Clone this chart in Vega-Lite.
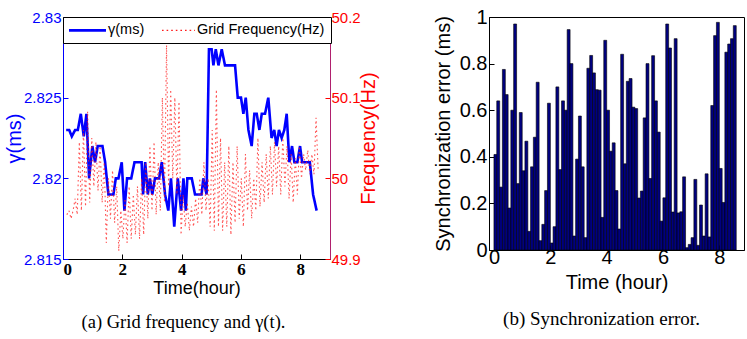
{
  "$schema": "https://vega.github.io/schema/vega-lite/v6.json",
  "background": "white",
  "padding": {"left": 3, "top": 6, "right": 0, "bottom": 0},
  "bounds": "flush",
  "spacing": 159,
  "config": {
    "view": {"stroke": "black", "strokeWidth": 1},
    "font": "Liberation Sans",
    "axis": {"grid": false, "domainColor": "black", "tickColor": "black", "labelColor": "black", "titleColor": "black", "labelFont": "Liberation Sans", "titleFont": "Liberation Sans", "titleFontWeight": "normal", "domainWidth": 1, "tickWidth": 1}
  },
  "hconcat": [
    {
      "width": 267,
      "height": 242,
      "title": {"text": "(a) Grid frequency and γ(t).", "orient": "bottom", "frame": "group", "font": "Liberation Serif", "fontSize": 18.5, "fontWeight": "normal", "color": "black", "offset": 16, "dx": -13},
      "layer": [
        {
          "data": {"values": [
            {"t":0.107,"gamma":2.823,"series":"γ(ms)"},{"t":0.208,"gamma":2.823,"series":"γ(ms)"},{"t":0.297,"gamma":2.8226,"series":"γ(ms)"},{"t":0.41,"gamma":2.823,"series":"γ(ms)"},{"t":0.5,"gamma":2.823,"series":"γ(ms)"},{"t":0.6,"gamma":2.824,"series":"γ(ms)"},{"t":0.7,"gamma":2.8226,"series":"γ(ms)"},{"t":0.79,"gamma":2.824,"series":"γ(ms)"},{"t":0.88,"gamma":2.82,"series":"γ(ms)"},{"t":0.99,"gamma":2.822,"series":"γ(ms)"},{"t":1.08,"gamma":2.821,"series":"γ(ms)"},{"t":1.17,"gamma":2.822,"series":"γ(ms)"},{"t":1.25,"gamma":2.822,"series":"γ(ms)"},{"t":1.33,"gamma":2.822,"series":"γ(ms)"},{"t":1.42,"gamma":2.821,"series":"γ(ms)"},{"t":1.53,"gamma":2.819,"series":"γ(ms)"},{"t":1.7,"gamma":2.819,"series":"γ(ms)"},{"t":1.78,"gamma":2.82,"series":"γ(ms)"},{"t":1.87,"gamma":2.82,"series":"γ(ms)"},{"t":1.98,"gamma":2.821,"series":"γ(ms)"},{"t":2.07,"gamma":2.818,"series":"γ(ms)"},{"t":2.16,"gamma":2.82,"series":"γ(ms)"},{"t":2.3,"gamma":2.82,"series":"γ(ms)"},{"t":2.41,"gamma":2.821,"series":"γ(ms)"},{"t":2.65,"gamma":2.821,"series":"γ(ms)"},{"t":2.7,"gamma":2.819,"series":"γ(ms)"},{"t":2.77,"gamma":2.821,"series":"γ(ms)"},{"t":2.86,"gamma":2.819,"series":"γ(ms)"},{"t":2.93,"gamma":2.82,"series":"γ(ms)"},{"t":3.01,"gamma":2.819,"series":"γ(ms)"},{"t":3.1,"gamma":2.82,"series":"γ(ms)"},{"t":3.24,"gamma":2.82,"series":"γ(ms)"},{"t":3.33,"gamma":2.821,"series":"γ(ms)"},{"t":3.44,"gamma":2.819,"series":"γ(ms)"},{"t":3.55,"gamma":2.818,"series":"γ(ms)"},{"t":3.64,"gamma":2.82,"series":"γ(ms)"},{"t":3.75,"gamma":2.817,"series":"γ(ms)"},{"t":3.87,"gamma":2.82,"series":"γ(ms)"},{"t":3.98,"gamma":2.818,"series":"γ(ms)"},{"t":4.06,"gamma":2.82,"series":"γ(ms)"},{"t":4.14,"gamma":2.818,"series":"γ(ms)"},{"t":4.19,"gamma":2.82,"series":"γ(ms)"},{"t":4.34,"gamma":2.82,"series":"γ(ms)"},{"t":4.45,"gamma":2.819,"series":"γ(ms)"},{"t":4.67,"gamma":2.819,"series":"γ(ms)"},{"t":4.73,"gamma":2.82,"series":"γ(ms)"},{"t":4.84,"gamma":2.819,"series":"γ(ms)"},{"t":4.92,"gamma":2.828,"series":"γ(ms)"},{"t":5.01,"gamma":2.828,"series":"γ(ms)"},{"t":5.07,"gamma":2.827,"series":"γ(ms)"},{"t":5.15,"gamma":2.828,"series":"γ(ms)"},{"t":5.24,"gamma":2.827,"series":"γ(ms)"},{"t":5.35,"gamma":2.828,"series":"γ(ms)"},{"t":5.46,"gamma":2.827,"series":"γ(ms)"},{"t":5.8,"gamma":2.827,"series":"γ(ms)"},{"t":5.89,"gamma":2.825,"series":"γ(ms)"},{"t":6.0,"gamma":2.825,"series":"γ(ms)"},{"t":6.08,"gamma":2.824,"series":"γ(ms)"},{"t":6.16,"gamma":2.825,"series":"γ(ms)"},{"t":6.25,"gamma":2.823,"series":"γ(ms)"},{"t":6.36,"gamma":2.822,"series":"γ(ms)"},{"t":6.45,"gamma":2.824,"series":"γ(ms)"},{"t":6.53,"gamma":2.824,"series":"γ(ms)"},{"t":6.62,"gamma":2.823,"series":"γ(ms)"},{"t":6.7,"gamma":2.824,"series":"γ(ms)"},{"t":6.81,"gamma":2.824,"series":"γ(ms)"},{"t":6.92,"gamma":2.825,"series":"γ(ms)"},{"t":7.03,"gamma":2.8225,"series":"γ(ms)"},{"t":7.12,"gamma":2.823,"series":"γ(ms)"},{"t":7.2,"gamma":2.822,"series":"γ(ms)"},{"t":7.28,"gamma":2.823,"series":"γ(ms)"},{"t":7.37,"gamma":2.8225,"series":"γ(ms)"},{"t":7.46,"gamma":2.823,"series":"γ(ms)"},{"t":7.54,"gamma":2.824,"series":"γ(ms)"},{"t":7.63,"gamma":2.821,"series":"γ(ms)"},{"t":7.72,"gamma":2.822,"series":"γ(ms)"},{"t":7.8,"gamma":2.821,"series":"γ(ms)"},{"t":7.9,"gamma":2.821,"series":"γ(ms)"},{"t":7.99,"gamma":2.822,"series":"γ(ms)"},{"t":8.06,"gamma":2.821,"series":"γ(ms)"},{"t":8.32,"gamma":2.821,"series":"γ(ms)"},{"t":8.43,"gamma":2.819,"series":"γ(ms)"},{"t":8.55,"gamma":2.818,"series":"γ(ms)"}
          ]},
          "mark": {"type": "line", "strokeWidth": 2.6},
          "encoding": {
            "x": {"field": "t", "type": "quantitative", "scale": {"domain": [0, 9], "nice": false},
              "axis": {"values": [0, 2, 4, 6, 8], "title": "Time(hour)", "labelFont": "Liberation Serif", "labelFontWeight": "bold", "labelFontSize": 17, "titleFontSize": 18, "tickSize": -5, "labelPadding": 7, "titlePadding": 2}},
            "y": {"field": "gamma", "type": "quantitative", "scale": {"domain": [2.815, 2.83], "nice": false, "zero": false},
              "axis": {"values": [2.815, 2.82, 2.825, 2.83], "format": "~g", "title": "γ(ms)", "labelColor": "#0000ff", "titleColor": "#0000ff", "domainColor": "#0000ff", "tickColor": "#0000ff", "labelFontSize": 15, "titleFontSize": 20, "tickSize": -5, "labelPadding": 7, "titlePadding": -1}},
            "color": {"field": "series", "type": "nominal", "scale": {"domain": ["γ(ms)", "Grid Frequency(Hz)"], "range": ["#0000ff", "#ff1a1a"]},
              "legend": {"orient": "none", "legendX": 0, "legendY": 0, "direction": "horizontal", "title": null, "fillColor": "white", "strokeColor": "black", "padding": 6, "symbolType": "stroke", "symbolSize": 1369, "labelFontSize": 14.5, "labelFont": "Liberation Sans", "labelColor": "black", "labelOffset": 4, "columnPadding": 14,
                "encode": {
                  "symbols": {"update": {"strokeWidth": {"signal": "datum.value === 'γ(ms)' ? 2.6 : 1.2"}, "size": {"signal": "datum.value === 'γ(ms)' ? 1369 : 1089"}, "x": {"signal": "datum.value === 'γ(ms)' ? 18.5 : 16.5"}}},
                  "labels": {"update": {"x": {"signal": "datum.value === 'γ(ms)' ? 39 : 35"}}}
                }}},
            "strokeDash": {"field": "series", "type": "nominal", "scale": {"domain": ["γ(ms)", "Grid Frequency(Hz)"], "range": [[1, 0], [1.6, 3]]}}
          }
        },
        {
          "data": {"values": [
            {"t":0.13,"freq":49.955,"series":"Grid Frequency(Hz)"},{"t":0.2,"freq":49.96,"series":"Grid Frequency(Hz)"},{"t":0.27,"freq":49.95,"series":"Grid Frequency(Hz)"},{"t":0.34,"freq":49.96,"series":"Grid Frequency(Hz)"},{"t":0.41,"freq":49.975,"series":"Grid Frequency(Hz)"},{"t":0.48,"freq":49.955,"series":"Grid Frequency(Hz)"},{"t":0.55,"freq":50.045,"series":"Grid Frequency(Hz)"},{"t":0.62,"freq":49.96,"series":"Grid Frequency(Hz)"},{"t":0.69,"freq":50.06,"series":"Grid Frequency(Hz)"},{"t":0.76,"freq":49.965,"series":"Grid Frequency(Hz)"},{"t":0.83,"freq":50.083,"series":"Grid Frequency(Hz)"},{"t":0.9,"freq":49.97,"series":"Grid Frequency(Hz)"},{"t":0.97,"freq":50.05,"series":"Grid Frequency(Hz)"},{"t":1.04,"freq":49.99,"series":"Grid Frequency(Hz)"},{"t":1.11,"freq":50.045,"series":"Grid Frequency(Hz)"},{"t":1.18,"freq":49.985,"series":"Grid Frequency(Hz)"},{"t":1.25,"freq":50.04,"series":"Grid Frequency(Hz)"},{"t":1.32,"freq":49.97,"series":"Grid Frequency(Hz)"},{"t":1.39,"freq":50.02,"series":"Grid Frequency(Hz)"},{"t":1.46,"freq":49.92,"series":"Grid Frequency(Hz)"},{"t":1.53,"freq":50.0,"series":"Grid Frequency(Hz)"},{"t":1.6,"freq":49.95,"series":"Grid Frequency(Hz)"},{"t":1.67,"freq":50.01,"series":"Grid Frequency(Hz)"},{"t":1.74,"freq":49.945,"series":"Grid Frequency(Hz)"},{"t":1.81,"freq":49.99,"series":"Grid Frequency(Hz)"},{"t":1.88,"freq":49.91,"series":"Grid Frequency(Hz)"},{"t":1.95,"freq":49.96,"series":"Grid Frequency(Hz)"},{"t":2.02,"freq":49.925,"series":"Grid Frequency(Hz)"},{"t":2.09,"freq":49.975,"series":"Grid Frequency(Hz)"},{"t":2.16,"freq":49.92,"series":"Grid Frequency(Hz)"},{"t":2.23,"freq":49.99,"series":"Grid Frequency(Hz)"},{"t":2.3,"freq":49.925,"series":"Grid Frequency(Hz)"},{"t":2.37,"freq":49.98,"series":"Grid Frequency(Hz)"},{"t":2.44,"freq":49.93,"series":"Grid Frequency(Hz)"},{"t":2.51,"freq":49.99,"series":"Grid Frequency(Hz)"},{"t":2.58,"freq":49.925,"series":"Grid Frequency(Hz)"},{"t":2.65,"freq":50.0,"series":"Grid Frequency(Hz)"},{"t":2.72,"freq":49.93,"series":"Grid Frequency(Hz)"},{"t":2.79,"freq":50.02,"series":"Grid Frequency(Hz)"},{"t":2.86,"freq":49.95,"series":"Grid Frequency(Hz)"},{"t":2.93,"freq":50.04,"series":"Grid Frequency(Hz)"},{"t":3.0,"freq":49.96,"series":"Grid Frequency(Hz)"},{"t":3.07,"freq":50.045,"series":"Grid Frequency(Hz)"},{"t":3.14,"freq":49.955,"series":"Grid Frequency(Hz)"},{"t":3.21,"freq":50.02,"series":"Grid Frequency(Hz)"},{"t":3.28,"freq":49.96,"series":"Grid Frequency(Hz)"},{"t":3.35,"freq":50.1,"series":"Grid Frequency(Hz)"},{"t":3.42,"freq":49.97,"series":"Grid Frequency(Hz)"},{"t":3.49,"freq":50.165,"series":"Grid Frequency(Hz)"},{"t":3.56,"freq":49.99,"series":"Grid Frequency(Hz)"},{"t":3.63,"freq":50.11,"series":"Grid Frequency(Hz)"},{"t":3.7,"freq":50.0,"series":"Grid Frequency(Hz)"},{"t":3.77,"freq":50.1,"series":"Grid Frequency(Hz)"},{"t":3.84,"freq":49.98,"series":"Grid Frequency(Hz)"},{"t":3.91,"freq":50.095,"series":"Grid Frequency(Hz)"},{"t":3.98,"freq":49.93,"series":"Grid Frequency(Hz)"},{"t":4.05,"freq":49.98,"series":"Grid Frequency(Hz)"},{"t":4.12,"freq":49.94,"series":"Grid Frequency(Hz)"},{"t":4.19,"freq":49.97,"series":"Grid Frequency(Hz)"},{"t":4.26,"freq":49.935,"series":"Grid Frequency(Hz)"},{"t":4.33,"freq":49.965,"series":"Grid Frequency(Hz)"},{"t":4.4,"freq":49.94,"series":"Grid Frequency(Hz)"},{"t":4.47,"freq":49.975,"series":"Grid Frequency(Hz)"},{"t":4.54,"freq":49.945,"series":"Grid Frequency(Hz)"},{"t":4.61,"freq":50.0,"series":"Grid Frequency(Hz)"},{"t":4.68,"freq":49.955,"series":"Grid Frequency(Hz)"},{"t":4.75,"freq":50.02,"series":"Grid Frequency(Hz)"},{"t":4.82,"freq":49.96,"series":"Grid Frequency(Hz)"},{"t":4.89,"freq":50.0,"series":"Grid Frequency(Hz)"},{"t":4.96,"freq":49.94,"series":"Grid Frequency(Hz)"},{"t":5.03,"freq":50.06,"series":"Grid Frequency(Hz)"},{"t":5.1,"freq":49.935,"series":"Grid Frequency(Hz)"},{"t":5.17,"freq":50.11,"series":"Grid Frequency(Hz)"},{"t":5.24,"freq":49.94,"series":"Grid Frequency(Hz)"},{"t":5.31,"freq":50.05,"series":"Grid Frequency(Hz)"},{"t":5.38,"freq":49.935,"series":"Grid Frequency(Hz)"},{"t":5.45,"freq":50.02,"series":"Grid Frequency(Hz)"},{"t":5.52,"freq":49.94,"series":"Grid Frequency(Hz)"},{"t":5.59,"freq":50.04,"series":"Grid Frequency(Hz)"},{"t":5.66,"freq":49.93,"series":"Grid Frequency(Hz)"},{"t":5.73,"freq":50.02,"series":"Grid Frequency(Hz)"},{"t":5.8,"freq":49.945,"series":"Grid Frequency(Hz)"},{"t":5.87,"freq":50.04,"series":"Grid Frequency(Hz)"},{"t":5.94,"freq":49.95,"series":"Grid Frequency(Hz)"},{"t":6.01,"freq":50.0,"series":"Grid Frequency(Hz)"},{"t":6.08,"freq":49.94,"series":"Grid Frequency(Hz)"},{"t":6.15,"freq":50.03,"series":"Grid Frequency(Hz)"},{"t":6.22,"freq":49.96,"series":"Grid Frequency(Hz)"},{"t":6.29,"freq":50.01,"series":"Grid Frequency(Hz)"},{"t":6.36,"freq":49.95,"series":"Grid Frequency(Hz)"},{"t":6.43,"freq":50.0,"series":"Grid Frequency(Hz)"},{"t":6.5,"freq":49.96,"series":"Grid Frequency(Hz)"},{"t":6.57,"freq":50.05,"series":"Grid Frequency(Hz)"},{"t":6.64,"freq":49.965,"series":"Grid Frequency(Hz)"},{"t":6.71,"freq":50.02,"series":"Grid Frequency(Hz)"},{"t":6.78,"freq":49.97,"series":"Grid Frequency(Hz)"},{"t":6.85,"freq":50.03,"series":"Grid Frequency(Hz)"},{"t":6.92,"freq":49.975,"series":"Grid Frequency(Hz)"},{"t":6.99,"freq":50.04,"series":"Grid Frequency(Hz)"},{"t":7.06,"freq":49.98,"series":"Grid Frequency(Hz)"},{"t":7.13,"freq":50.045,"series":"Grid Frequency(Hz)"},{"t":7.2,"freq":49.99,"series":"Grid Frequency(Hz)"},{"t":7.27,"freq":50.04,"series":"Grid Frequency(Hz)"},{"t":7.34,"freq":49.98,"series":"Grid Frequency(Hz)"},{"t":7.41,"freq":50.05,"series":"Grid Frequency(Hz)"},{"t":7.48,"freq":49.99,"series":"Grid Frequency(Hz)"},{"t":7.55,"freq":50.04,"series":"Grid Frequency(Hz)"},{"t":7.62,"freq":49.975,"series":"Grid Frequency(Hz)"},{"t":7.69,"freq":50.03,"series":"Grid Frequency(Hz)"},{"t":7.76,"freq":49.97,"series":"Grid Frequency(Hz)"},{"t":7.83,"freq":50.025,"series":"Grid Frequency(Hz)"},{"t":7.9,"freq":49.98,"series":"Grid Frequency(Hz)"},{"t":7.97,"freq":50.04,"series":"Grid Frequency(Hz)"},{"t":8.04,"freq":50.0,"series":"Grid Frequency(Hz)"},{"t":8.11,"freq":50.03,"series":"Grid Frequency(Hz)"},{"t":8.18,"freq":50.01,"series":"Grid Frequency(Hz)"},{"t":8.25,"freq":50.035,"series":"Grid Frequency(Hz)"},{"t":8.32,"freq":50.005,"series":"Grid Frequency(Hz)"},{"t":8.39,"freq":50.03,"series":"Grid Frequency(Hz)"},{"t":8.46,"freq":50.005,"series":"Grid Frequency(Hz)"},{"t":8.53,"freq":50.075,"series":"Grid Frequency(Hz)"},{"t":8.6,"freq":50.01,"series":"Grid Frequency(Hz)"}
          ]},
          "mark": {"type": "line", "strokeWidth": 1.1, "opacity": 0.75},
          "encoding": {
            "x": {"field": "t", "type": "quantitative"},
            "y": {"field": "freq", "type": "quantitative", "scale": {"domain": [49.9, 50.2], "nice": false, "zero": false},
              "axis": {"orient": "right", "values": [49.9, 50, 50.1, 50.2], "format": "~g", "title": "Frequency(Hz)", "titleAngle": 270, "titleBaseline": "top", "labelColor": "#ff0000", "titleColor": "#ff0000", "domainColor": "#b0206e", "tickColor": "#ff0000", "labelFontSize": 15, "titleFontSize": 20, "tickSize": -5, "labelPadding": 6, "titlePadding": -2}},
            "color": {"field": "series", "type": "nominal"},
            "strokeDash": {"field": "series", "type": "nominal"}
          }
        }
      ],
      "resolve": {"scale": {"y": "independent"}}
    },
    {
      "width": 255,
      "height": 233,
      "title": {"text": "(b) Synchronization error.", "orient": "bottom", "frame": "group", "font": "Liberation Serif", "fontSize": 19, "fontWeight": "normal", "color": "black", "offset": 18, "dx": -15},
      "data": {"values": [
        {"t":0.05,"err":0.41},{"t":0.15,"err":0.64},{"t":0.25,"err":0.27},{"t":0.35,"err":0.775},{"t":0.45,"err":0.667},{"t":0.55,"err":0.18},{"t":0.65,"err":0.6},{"t":0.75,"err":0.97},{"t":0.85,"err":0.285},{"t":0.95,"err":0.59},
        {"t":1.05,"err":0.34},{"t":1.15,"err":0.467},{"t":1.25,"err":0.08},{"t":1.35,"err":0.357},{"t":1.45,"err":0.484},{"t":1.55,"err":0.72},{"t":1.65,"err":0.04},{"t":1.75,"err":0.11},{"t":1.85,"err":0.255},{"t":1.95,"err":0.63},
        {"t":2.05,"err":0.03},{"t":2.15,"err":0.1},{"t":2.25,"err":0.7},{"t":2.35,"err":0.345},{"t":2.45,"err":0.64},{"t":2.55,"err":0.6},{"t":2.65,"err":0.946},{"t":2.75,"err":0.8},{"t":2.85,"err":0.06},{"t":2.95,"err":0.39},
        {"t":3.05,"err":0.575},{"t":3.15,"err":0.357},{"t":3.25,"err":0.053},{"t":3.35,"err":0.78},{"t":3.45,"err":0.835},{"t":3.55,"err":0.76},{"t":3.65,"err":0.688},{"t":3.75,"err":0.686},{"t":3.85,"err":0.14},{"t":3.95,"err":0.9},
        {"t":4.05,"err":0.6},{"t":4.15,"err":0.424},{"t":4.25,"err":0.46},{"t":4.35,"err":0.255},{"t":4.45,"err":0.09},{"t":4.55,"err":0.84},{"t":4.65,"err":0.37},{"t":4.75,"err":0.724},{"t":4.85,"err":0.736},{"t":4.95,"err":0.613},
        {"t":5.05,"err":0.607},{"t":5.15,"err":0.223},{"t":5.25,"err":0.253},{"t":5.35,"err":0.567},{"t":5.45,"err":0.8},{"t":5.55,"err":0.307},{"t":5.65,"err":0.834},{"t":5.75,"err":0.64},{"t":5.85,"err":0.506},{"t":5.95,"err":0.124},
        {"t":6.05,"err":0.224},{"t":6.15,"err":0.97},{"t":6.25,"err":0.867},{"t":6.35,"err":0.163},{"t":6.45,"err":0.907},{"t":6.55,"err":0.159},{"t":6.65,"err":0.164},{"t":6.75,"err":0.314},{"t":6.85,"err":0.01},{"t":6.95,"err":0.024},
        {"t":7.05,"err":0.053},{"t":7.15,"err":0.303},{"t":7.25,"err":0.02},{"t":7.35,"err":0.193},{"t":7.45,"err":0.06},{"t":7.55,"err":0.327},{"t":7.65,"err":0.056},{"t":7.75,"err":0.62},{"t":7.85,"err":0.92},{"t":7.95,"err":0.977},
        {"t":8.05,"err":0.35},{"t":8.15,"err":0.204},{"t":8.25,"err":0.849},{"t":8.35,"err":0.884},{"t":8.45,"err":0.907},{"t":8.55,"err":0.963}
      ]},
      "mark": {"type": "bar", "width": 2.93, "fill": "#000080", "stroke": "black", "strokeWidth": 0.6},
      "encoding": {
        "x": {"field": "t", "type": "quantitative", "scale": {"domain": [0, 8.7], "nice": false},
          "axis": {"values": [0, 2, 4, 6, 8], "title": "Time (hour)", "labelFontSize": 20, "titleFontSize": 20, "tickSize": -5, "labelPadding": 2, "titlePadding": 5}},
        "y": {"field": "err", "type": "quantitative", "scale": {"domain": [0, 1], "nice": false},
          "axis": {"values": [0, 0.2, 0.4, 0.6, 0.8, 1], "format": "~g", "title": "Synchronization error (ms)", "labelFontSize": 20, "titleFontSize": 20, "tickSize": -5, "labelPadding": 7, "titlePadding": 6}}
      }
    }
  ]
}
